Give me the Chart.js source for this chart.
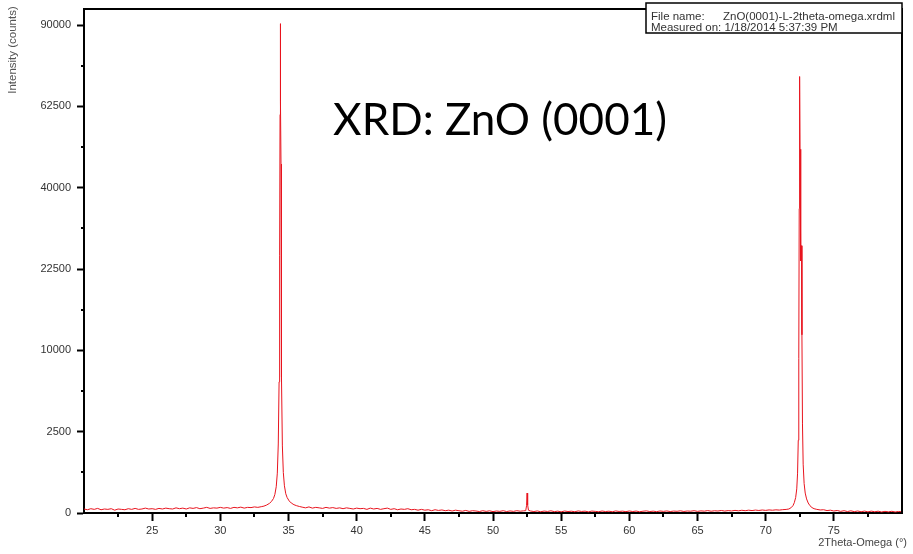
<!DOCTYPE html>
<html>
<head>
<meta charset="utf-8">
<script src="https://cdn.jsdelivr.net/npm/chart.js@4/dist/chart.umd.min.js"></script>
<style>
  body { margin: 0; background: #fff; }
  canvas { display: block; }
</style>
</head>
<body>
<canvas id="xrd" width="913" height="554"></canvas>
<script>
// scan step for the flat background stretches (degrees 2theta)
const scanStep = 0.25;

// background 20 .. 33 deg
const bg1Start = 20;
const bg1Counts = [6,4,7,5,8,4,6,5,7,3, 6,5,4,7,5,8,5,6,9,6, 7,5,8,6,9,7,6,10,7,9,
  6,10,8,11,7,9,12,8,10,9, 12,9,11,8,12,10,13,9,12,11, 14,12,15];

// ZnO (0002) reflection
const peak1Angles = [33.2,33.4,33.6,33.75,33.9,34.0,34.1,34.18,34.25,34.31,34.35,34.38,34.4,34.42,
  34.45,34.47,34.5,34.55,34.62,34.7,34.8,34.9,35.05,35.2,35.4,35.6,35.8];
const peak1Counts = [18,24,35,50,80,130,260,600,1800,6500,25000,60000,90500,64000,
  46000,30000,7000,1700,620,280,140,90,55,38,26,20,16];

// background 36 .. 52.25 deg
const bg2Start = 36;
const bg2Counts = [13,10,14,9,12,10,8,12,9,11, 8,10,7,10,8,6,9,7,8,5, 9,6,8,5,7,9,5,7,4,6,
  5,7,4,5,3,5,3,4,2,4, 2.5,3.5,2,3,1.5,3,2,1.2,2.5,1, 2,1.5,0.8,2,1,1.8,0.7,1.5,1,2,
  0.8,1.6,1,2,1.2,1.8];

// small substrate line
const peak2Angles = [52.4,52.46,52.5,52.54,52.6];
const peak2Counts = [2,20,150,25,3];

// background 52.75 .. 71.5 deg
const bg3Start = 52.75;
const bg3Counts = [1.5,0.8,1.6,0.6,1.4,0.9,1.8,0.7,1.3,0.5, 1.5,0.8,1.2,0.6,1.6,0.9,1.3,0.5,1.4,1,
  0.6,1.5,0.8,1.2,0.6,1.6,0.9,1.3,0.7,1.5, 0.8,1.4,0.6,1.2,1.7,0.8,1.3,0.7,1.5,1,
  1.6,0.8,1.4,1.1,1.8,0.9,1.5,1.2,2,1, 1.7,1.3,2.2,1.2,1.9,1.5,2.4,1.4,2.2,1.6,
  2.6,1.8,2.8,2,3,2.2,3.2,2.4,3.4,2.6, 3.6,2.9,3.8,3.2,4.2,4.8];

// ZnO (0004) reflection
const peak3Angles = [71.7,71.85,72.0,72.1,72.2,72.28,72.34,72.39,72.43,72.46,72.48,72.5,72.52,
  72.55,72.59,72.63,72.66,72.7,72.75,72.82,72.9,73.0,73.12,73.25,73.4,73.55];
const peak3Counts = [6,10,20,40,90,220,600,2000,9000,35000,58000,72000,50000,
  26000,24000,27000,12000,3000,900,330,150,75,38,20,11,7];

// background 73.75 .. 80 deg
const bg4Start = 73.75;
const bg4Counts = [5,3.5,4,2.2,3,1.5,2.4,1,2,0.8, 1.8,0.7,1.5,0.6,1.4,0.5,1.3,0.6,1.2,0.4,
  1,0.5,1.1,0.4,0.9,0.5];

// axes
const xMin = 20, xMax = 80;
const xTicks = [25,30,35,40,45,50,55,60,65,70,75];
const xMinorTicks = [22.5,27.5,32.5,37.5,42.5,47.5,52.5,57.5,62.5,67.5,72.5,77.5];
const yMin = 0, yMax = 96000;
const yTicks = [0,2500,10000,22500,40000,62500,90000];
const yMinorTicks = [625,5625,15625,30625,50625,75625];

const titleText = "XRD: ZnO (0001)";
const xTitle = "2Theta-Omega (°)";
const yTitle = "Intensity (counts)";
const fileName = "ZnO(0001)-L-2theta-omega.xrdml";
const measuredOn = "1/18/2014 5:37:39 PM";

const FONT = "'Liberation Sans', Arial, sans-serif";

function bgPoints(start, counts) {
  return counts.map((c, i) => ({ x: start + i * scanStep, y: c }));
}
function peakPoints(angles, counts) {
  return angles.map((a, i) => ({ x: a, y: counts[i] }));
}

const scanData = [].concat(
  bgPoints(bg1Start, bg1Counts),
  peakPoints(peak1Angles, peak1Counts),
  bgPoints(bg2Start, bg2Counts),
  peakPoints(peak2Angles, peak2Counts),
  bgPoints(bg3Start, bg3Counts),
  peakPoints(peak3Angles, peak3Counts),
  bgPoints(bg4Start, bg4Counts)
);

// square-root intensity axis
class SqrtScale extends Chart.LinearScale {
  configure() {
    super.configure();
    this._rootMin = Math.sqrt(Math.max(this.min, 0));
    this._rootRange = Math.sqrt(this.max) - this._rootMin;
  }
  getPixelForValue(value) {
    if (value === null || value === undefined || isNaN(value)) return NaN;
    return this.getPixelForDecimal((Math.sqrt(Math.max(value, 0)) - this._rootMin) / this._rootRange);
  }
  getValueForPixel(pixel) {
    const r = this._rootMin + this.getDecimalForPixel(pixel) * this._rootRange;
    return r * r;
  }
}
SqrtScale.id = 'sqrt';
SqrtScale.defaults = Chart.LinearScale.defaults;
Chart.register(SqrtScale);

// frame, minor ticks, axis titles, big title and the file info box
const decorations = {
  id: 'decorations',
  afterDatasetsDraw(chart) {
    const { ctx, chartArea: a, scales: { x, y } } = chart;
    ctx.save();
    ctx.strokeStyle = '#000';
    ctx.lineWidth = 2;
    ctx.beginPath();
    ctx.moveTo(a.left, a.top);
    ctx.lineTo(a.right, a.top);
    ctx.lineTo(a.right, a.bottom);
    ctx.stroke();

    ctx.beginPath();
    xMinorTicks.forEach(v => {
      const px = Math.round(x.getPixelForValue(v));
      ctx.moveTo(px, a.bottom);
      ctx.lineTo(px, a.bottom + 4);
    });
    yMinorTicks.forEach(v => {
      const py = Math.round(y.getPixelForValue(v));
      ctx.moveTo(a.left - 3, py);
      ctx.lineTo(a.left, py);
    });
    ctx.stroke();

    // axis titles
    ctx.fillStyle = '#444';
    ctx.font = '11px ' + FONT;
    ctx.textAlign = 'right';
    ctx.textBaseline = 'alphabetic';
    ctx.fillText(xTitle, 907, 545.5);

    ctx.save();
    ctx.translate(15.5, 50);
    ctx.rotate(-Math.PI / 2);
    ctx.fillStyle = '#555';
    ctx.font = '11.5px ' + FONT;
    ctx.textAlign = 'center';
    ctx.fillText(yTitle, 0, 0);
    ctx.restore();

    ctx.fillStyle = '#000';
    ctx.font = "44px Lato, 'Open Sans', sans-serif";
    ctx.textAlign = 'center';
    ctx.fillText(titleText, 500, 135, 334);

    ctx.fillStyle = '#fff';
    ctx.fillRect(646, 3, a.right - 646, 30);
    ctx.lineWidth = 1.5;
    ctx.strokeRect(646, 3, a.right - 646, 30);
    ctx.fillStyle = '#333';
    ctx.font = '11.5px ' + FONT;
    ctx.textAlign = 'left';
    ctx.fillText('File name:', 651, 20);
    ctx.fillText(fileName, 723, 20);
    ctx.fillText('Measured on: ' + measuredOn, 651, 30.5);
    ctx.restore();
  }
};

new Chart(document.getElementById('xrd'), {
  type: 'line',
  data: {
    datasets: [{
      data: scanData,
      borderColor: '#e8141e',
      borderWidth: 1,
      pointRadius: 0,
      tension: 0,
      fill: false
    }]
  },
  options: {
    responsive: false,
    animation: false,
    devicePixelRatio: 1,
    layout: { padding: { top: 9, right: 11, left: 0, bottom: 0 } },
    plugins: { legend: { display: false }, tooltip: { enabled: false } },
    scales: {
      x: {
        type: 'linear',
        min: xMin,
        max: xMax,
        afterBuildTicks: s => { s.ticks = xTicks.map(v => ({ value: v })); },
        afterFit: s => { s.height = 41; s.paddingLeft = 0; s.paddingRight = 0; },
        grid: { drawOnChartArea: false, tickLength: 8, tickWidth: 2, tickColor: '#000' },
        border: { color: '#000', width: 2 },
        ticks: {
          autoSkip: false, maxRotation: 0, padding: 3, color: '#333',
          font: { family: FONT, size: 11 },
          callback: v => String(v)
        }
      },
      y: {
        type: 'sqrt',
        min: yMin,
        max: yMax,
        afterBuildTicks: s => { s.ticks = yTicks.map(v => ({ value: v })); },
        afterFit: s => { s.width = 84; s.paddingTop = 0; s.paddingBottom = 0; },
        grid: { drawOnChartArea: false, tickLength: 7, tickWidth: 2, tickColor: '#000' },
        border: { color: '#000', width: 2 },
        ticks: {
          autoSkip: false, padding: 6, color: '#333',
          font: { family: FONT, size: 11 },
          callback: v => String(v)
        }
      }
    }
  },
  plugins: [decorations]
});
</script>
</body>
</html>
